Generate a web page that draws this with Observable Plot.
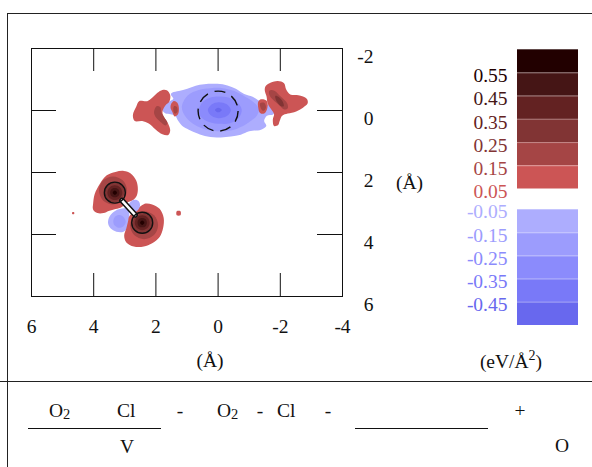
<!DOCTYPE html>
<html>
<head>
<meta charset="utf-8">
<script src="https://cdn.jsdelivr.net/npm/d3@7"></script>
<script src="https://cdn.jsdelivr.net/npm/@observablehq/plot@0.6"></script>
<style>
  body { margin: 0; background: #fff; }
  #page { position: relative; width: 592px; height: 467px; overflow: hidden; background: #fff; }
  #page > * { position: absolute; }
  .rule-h { height: 0; border-top: 1px solid #222; }
  .rule-v { width: 0; border-left: 1px solid #222; }
</style>
</head>
<body>
<div id="page"></div>
<script>
// Axis ticks and labels (Å)
const xTickLabels = [6, 4, 2, 0, -2, -4];
const yTickLabels = [-2, 0, 2, 4, 6];
const xTicks = [4, 2, 0, -2];
const yTicks = [0, 2, 4];

// Contour thresholds (eV/Å²) and band colours, lowest band first
const thresholds = [-0.45, -0.35, -0.25, -0.15, -0.05, 0.05, 0.15, 0.25, 0.35, 0.45, 0.55];
const bandColors = ["#6868ee", "#7979f8", "#8b8bfc", "#9c9cfd", "#adadfe", "#ffffff",
                    "#cc5555", "#a54545", "#813434", "#632222", "#451515", "#220000"];
const legendRed = [0.55, 0.45, 0.35, 0.25, 0.15, 0.05];
const legendBlue = [-0.05, -0.15, -0.25, -0.35, -0.45];

// Filled contour regions, outlines as [x, y] in Å
const centralDepletion = [[1.47,-0.58],[1.26,-0.63],[0.99,-0.70],[0.72,-0.80],[0.45,-0.85],[0.02,-0.86],[-0.30,-0.81],[-0.57,-0.70],[-0.84,-0.53],[-1.11,-0.44],[-1.29,-0.33],[-1.59,-0.19],[-1.85,-0.03],[-1.77,0.13],[-1.57,0.17],[-1.48,0.34],[-1.55,0.50],[-1.38,0.62],[-1.00,0.67],[-0.73,0.78],[-0.41,0.84],[-0.09,0.87],[0.34,0.84],[0.66,0.74],[0.94,0.62],[1.15,0.50],[1.28,0.34],[1.38,0.17],[1.53,0.12],[1.69,0.10],[1.80,-0.03],[1.72,-0.19],[1.55,-0.30],[1.44,-0.38],[1.52,-0.52]];
const centralRing = [[1.16,-0.17],[0.97,-0.49],[0.62,-0.66],[0.24,-0.72],[-0.15,-0.72],[-0.54,-0.62],[-0.86,-0.45],[-1.12,-0.28],[-1.31,-0.07],[-1.25,0.16],[-1.05,0.34],[-0.86,0.47],[-0.54,0.61],[-0.15,0.67],[0.30,0.64],[0.69,0.50],[0.97,0.29],[1.13,0.06]];
const centralInner = [[0.62,-0.01],[0.49,-0.28],[0.24,-0.42],[-0.09,-0.45],[-0.41,-0.39],[-0.67,-0.21],[-0.76,-0.01],[-0.67,0.23],[-0.41,0.40],[-0.09,0.43],[0.30,0.37],[0.56,0.20]];
const centralDeep = [[0.33,-0.01],[0.20,-0.20],[-0.02,-0.27],[-0.28,-0.20],[-0.41,-0.01],[-0.28,0.18],[-0.02,0.25],[0.20,0.18]];
const centralCore = [[0.10,-0.02],[0.00,-0.09],[-0.12,-0.02],[0.00,0.06]];

const westLobe = [[1.79,-0.66],[1.95,-0.57],[2.12,-0.41],[2.28,-0.30],[2.54,-0.30],[2.63,-0.13],[2.74,0.15],[2.68,0.34],[2.44,0.34],[2.23,0.42],[2.01,0.61],[1.79,0.77],[1.60,0.79],[1.54,0.64],[1.61,0.42],[1.74,0.21],[1.79,0.05],[1.69,-0.17],[1.57,-0.28],[1.54,-0.49],[1.65,-0.65]];
const westLobeCore = [[1.98,-0.14],[2.06,0.05],[2.01,0.21],[1.85,0.37],[1.69,0.48],[1.63,0.40],[1.74,0.21],[1.83,0.05],[1.85,-0.10]];
const westPatch = [[1.50,-0.23],[1.42,-0.31],[1.31,-0.25],[1.26,-0.07],[1.29,0.12],[1.40,0.19],[1.47,0.05],[1.53,-0.10]];
const westPatchCore = [[1.42,-0.14],[1.33,-0.12],[1.31,0.05],[1.39,0.10],[1.44,-0.01]];

const eastPatch = [[-1.29,-0.28],[-1.38,-0.36],[-1.54,-0.33],[-1.59,-0.23],[-1.57,-0.03],[-1.48,0.10],[-1.35,0.08],[-1.29,-0.10]];
const eastPatchCore = [[-1.35,-0.23],[-1.48,-0.25],[-1.54,-0.10],[-1.46,0.01],[-1.38,-0.06]];
const eastLobe = [[-1.53,-0.79],[-1.70,-0.90],[-1.92,-0.95],[-2.12,-0.88],[-2.19,-0.68],[-2.32,-0.52],[-2.58,-0.49],[-2.85,-0.38],[-2.88,-0.23],[-2.73,-0.09],[-2.51,0.03],[-2.24,0.10],[-2.06,0.17],[-1.98,0.34],[-1.93,0.47],[-1.80,0.50],[-1.76,0.29],[-1.80,0.12],[-1.74,0.01],[-1.65,-0.12],[-1.59,-0.23],[-1.56,-0.44],[-1.50,-0.65]];
const eastLobeCore = [[-1.65,-0.64],[-1.81,-0.64],[-2.02,-0.44],[-2.22,-0.23],[-2.24,-0.07],[-2.13,-0.03],[-1.97,-0.17],[-1.75,-0.36],[-1.65,-0.50]];
const eastLobeInner = [[-1.84,-0.47],[-1.94,-0.44],[-2.08,-0.28],[-2.11,-0.14],[-2.02,-0.14],[-1.89,-0.28]];

const upperLobe = [[4.02,3.02],[3.97,2.70],[3.80,2.36],[3.58,2.09],[3.30,1.98],[3.03,1.95],[2.81,2.03],[2.63,2.27],[2.58,2.54],[2.62,2.76],[2.72,2.88],[2.92,2.97],[3.14,3.14],[3.35,3.19],[3.52,3.24],[3.68,3.31],[3.88,3.31],[4.02,3.19]];
const lowerLobe = [[2.45,3.06],[2.33,3.00],[2.12,3.03],[1.88,3.17],[1.75,3.46],[1.77,3.80],[1.88,4.08],[2.12,4.28],[2.39,4.39],[2.71,4.39],[2.95,4.26],[3.02,4.04],[2.95,3.80],[2.90,3.60],[2.86,3.42],[2.68,3.24]];
const atomAShells = [
  [[3.83,2.58],[3.70,2.26],[3.38,2.13],[3.06,2.26],[2.93,2.58],[3.06,2.88],[3.38,3.03],[3.70,2.90]],
  [[3.67,2.63],[3.57,2.40],[3.34,2.30],[3.11,2.40],[3.01,2.63],[3.11,2.86],[3.34,2.96],[3.57,2.86]],
  [[3.56,2.65],[3.49,2.48],[3.32,2.41],[3.15,2.48],[3.08,2.65],[3.15,2.82],[3.32,2.89],[3.49,2.82]],
  [[3.47,2.65],[3.43,2.54],[3.32,2.50],[3.21,2.54],[3.17,2.65],[3.21,2.76],[3.32,2.80],[3.43,2.76]],
  [[3.39,2.65],[3.32,2.58],[3.25,2.65],[3.32,2.72]]
];
const atomBShells = [
  [[2.83,3.70],[2.70,3.38],[2.38,3.25],[2.06,3.38],[1.93,3.70],[2.06,4.02],[2.38,4.15],[2.70,4.02]],
  [[2.75,3.65],[2.65,3.42],[2.42,3.32],[2.19,3.42],[2.09,3.65],[2.19,3.88],[2.42,3.98],[2.65,3.88]],
  [[2.68,3.62],[2.61,3.45],[2.44,3.38],[2.27,3.45],[2.20,3.62],[2.27,3.79],[2.44,3.86],[2.61,3.79]],
  [[2.59,3.62],[2.55,3.51],[2.44,3.47],[2.33,3.51],[2.29,3.62],[2.33,3.73],[2.44,3.77],[2.55,3.73]],
  [[2.51,3.62],[2.44,3.55],[2.37,3.62],[2.44,3.69]]
];
const shellLevels = [0.2, 0.3, 0.4, 0.5, 0.6];
const bondHoleWest = [[3.54,3.62],[3.48,3.40],[3.30,3.23],[3.08,3.16],[2.92,3.16],[2.86,3.30],[2.88,3.57],[2.92,3.80],[3.04,3.91],[3.27,3.91],[3.46,3.80]];
const bondHoleWestCore = [[3.37,3.57],[3.31,3.42],[3.17,3.37],[3.03,3.45],[2.97,3.60],[3.05,3.74],[3.20,3.78],[3.33,3.70]];
const bondHoleEast = [[2.92,3.20],[2.86,3.00],[2.71,2.88],[2.56,2.92],[2.51,3.07],[2.60,3.23],[2.76,3.28]];
const speckWest = [[4.69,3.28],[4.63,3.28],[4.63,3.34],[4.69,3.34]];
const speckEast = [[1.33,3.25],[1.21,3.25],[1.21,3.38],[1.33,3.38]];

// Atoms, bond and the adsorption site
const atoms = [[3.32, 2.65], [2.44, 3.62]];
const bond = [[3.32, 2.65, 2.44, 3.62]];
const site = [[0.0, 0.02]];

// Drawing order: depletion first, then accumulation, weakest level first
const regions = [
  [-0.1, centralDepletion], [-0.1, bondHoleWest],
  [-0.2, centralRing], [-0.2, bondHoleWestCore],
  [-0.3, centralInner], [-0.4, centralDeep], [-0.5, centralCore],
  [0.1, westLobe], [0.1, westPatch], [0.1, eastPatch], [0.1, eastLobe],
  [0.1, upperLobe], [0.1, lowerLobe], [0.1, speckWest], [0.1, speckEast],
  [-0.1, bondHoleEast],
  [0.2, westLobeCore], [0.2, westPatchCore], [0.2, eastPatchCore], [0.2, eastLobeCore],
  [0.3, eastLobeInner],
  ...shellLevels.flatMap((v, i) => [[v, atomAShells[i]], [v, atomBShells[i]]])
];

const color = {type: "threshold", domain: thresholds, range: bandColors};
const font = "Liberation Serif";
const ink = "#111";
const fs = 19.5;

const main = Plot.plot({
  width: 440, height: 380,
  marginLeft: 31, marginRight: 98, marginTop: 48, marginBottom: 84,
  x: {domain: [6, -4], axis: null},
  y: {domain: [6, -2], axis: null},
  color,
  style: {fontFamily: font, background: "transparent", overflow: "visible"},
  marks: [
    ...regions.map(([v, pts]) => Plot.line(pts, {
      x: d => d[0], y: d => d[1], fill: () => v, stroke: "none", curve: "catmull-rom-closed"
    })),
    Plot.dot(site, {x: d => d[0], y: d => d[1], r: 20, stroke: ink, strokeWidth: 1.4, fill: "none", strokeDasharray: "11,7"}),
    Plot.arrow(bond, {x1: d => d[0], y1: d => d[1], x2: d => d[2], y2: d => d[3], inset: 10.5, headLength: 0, stroke: ink, strokeWidth: 5.5}),
    Plot.arrow(bond, {x1: d => d[0], y1: d => d[1], x2: d => d[2], y2: d => d[3], inset: 10.5, headLength: 0, stroke: "#fff", strokeWidth: 2.5}),
    Plot.dot(atoms, {x: d => d[0], y: d => d[1], r: 10.5, stroke: ink, strokeWidth: 1.4, fill: "none"}),
    Plot.frame({stroke: ink, strokeWidth: 1}),
    Plot.tickX(xTicks, {x: d => d, insetBottom: 225, stroke: ink}),
    Plot.tickX(xTicks, {x: d => d, insetTop: 225, stroke: ink}),
    Plot.tickY(yTicks, {y: d => d, insetRight: 286, stroke: ink}),
    Plot.tickY(yTicks, {y: d => d, insetLeft: 286, stroke: ink}),
    Plot.text(xTickLabels, {x: d => d, text: d => String(d), frameAnchor: "bottom", lineAnchor: "middle", dy: 30, fontSize: fs, fontFamily: font, fill: ink}),
    Plot.text(yTickLabels, {y: d => d, text: d => String(d), frameAnchor: "right", lineAnchor: "middle", textAnchor: "end", dx: 31, dy: 8, fontSize: fs, fontFamily: font, fill: ink}),
    Plot.text(["(Å)"], {frameAnchor: "bottom", lineAnchor: "middle", dx: 23, dy: 64, fontSize: fs, fontFamily: font, fill: ink}),
    Plot.text(["(Å)"], {frameAnchor: "right", lineAnchor: "middle", textAnchor: "middle", dx: 67, dy: 10, fontSize: fs, fontFamily: font, fill: ink})
  ]
});

// Colour key: accumulation bands above, depletion bands below
function key(values, domain, range, lo, hi, dy) {
  return Plot.plot({
    width: 152, height: 380,
    marginLeft: 77, marginRight: 14, marginTop: 0, marginBottom: 0,
    x: {domain: [0, 1], axis: null},
    y: {domain, range, axis: null},
    color,
    style: {fontFamily: font, background: "transparent", overflow: "visible"},
    marks: [
      Plot.rect(values, {x1: () => 0, x2: () => 1, y1: d => d + lo, y2: d => d + hi, fill: d => d + (lo + hi) / 2}),
      Plot.ruleY(values.slice(1), {y: d => d + hi, stroke: "#fff", strokeOpacity: 0.3}),
      Plot.text(values, {y: d => d, text: d => d.toFixed(2), frameAnchor: "left", lineAnchor: "middle", textAnchor: "end",
                         dx: -10, dy, fill: d => d + (lo + hi) / 2, fontSize: fs, fontFamily: font})
    ]
  });
}
const keyRed = key(legendRed, [0.65, 0.05], [49.3, 188.5], 0, 0.1, 3);
const keyBlue = key(legendBlue, [-0.05, -0.55], [209.3, 325], -0.1, 0, 2.4);

const page = document.getElementById("page");
main.style.left = "0px"; main.style.top = "0px";
keyRed.style.left = "440px"; keyRed.style.top = "0px";
keyBlue.style.left = "440px"; keyBlue.style.top = "0px";
page.append(main, keyRed, keyBlue);

// Panel rules
const rules = [
  ["rule-h", {left: "8px", top: "13px", width: "590px"}],
  ["rule-v", {left: "7px", top: "13px", height: "460px"}],
  ["rule-h", {left: "0px", top: "381px", width: "592px"}]
];
for (const [cls, css] of rules) {
  const el = document.createElement("div");
  el.className = cls;
  Object.assign(el.style, css);
  page.append(el);
}

// Unit label and the energy expression below the panel
const ns = "http://www.w3.org/2000/svg";
const notes = document.createElementNS(ns, "svg");
notes.setAttribute("width", 592); notes.setAttribute("height", 467);
notes.style.left = "0px"; notes.style.top = "0px";
notes.innerHTML = `
  <g font-family="${font}" font-size="${fs}" fill="${ink}">
    <text x="511" y="368" text-anchor="middle">(eV/Å<tspan dy="-8" font-size="14">2</tspan><tspan dy="8">)</tspan></text>
    <text x="49" y="417">O<tspan dy="2" font-size="14.5">2</tspan></text>
    <text x="117" y="417">Cl</text>
    <line x1="28" x2="161" y1="428.5" y2="428.5" stroke="${ink}" stroke-width="1"/>
    <text x="120" y="453">V</text>
    <text x="180" y="417" text-anchor="middle">-</text>
    <text x="217" y="417">O<tspan dy="2" font-size="14.5">2</tspan></text>
    <text x="260" y="417" text-anchor="middle">-</text>
    <text x="277" y="417">Cl</text>
    <text x="328" y="417" text-anchor="middle">-</text>
    <line x1="355" x2="488" y1="428.5" y2="428.5" stroke="${ink}" stroke-width="1"/>
    <text x="520" y="417" text-anchor="middle">+</text>
    <text x="555" y="452">O</text>
  </g>`;
page.append(notes);
</script>
</body>
</html>
